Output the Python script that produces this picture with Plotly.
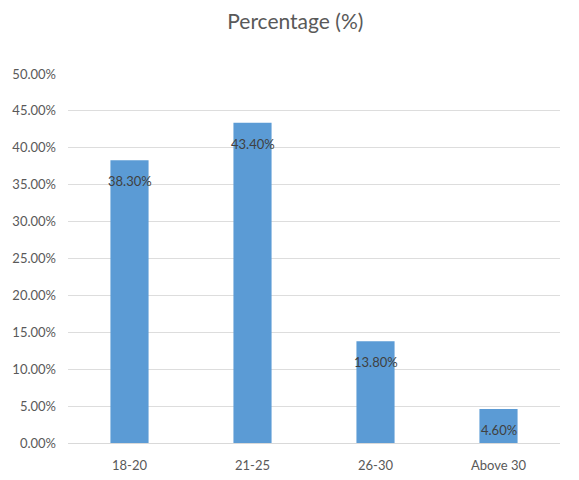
import plotly.graph_objects as go

# Age groups and their share of respondents
age_groups = ["18-20", "21-25", "26-30", "Above 30"]
shares = [0.383, 0.434, 0.138, 0.046]
y_ticks = [0.0, 0.05, 0.10, 0.15, 0.20, 0.25, 0.30, 0.35, 0.40, 0.45, 0.50]

FONT = "Lato"
GREY = "#595959"

fig = go.Figure(
    go.Bar(
        x=age_groups,
        y=shares,
        marker=dict(color="#5B9BD5", line=dict(width=0)),
        hoverinfo="skip",
    )
)

# Value labels just below the top of each bar
for g, v in zip(age_groups, shares):
    fig.add_annotation(
        x=g, y=v, text=f"{v * 100:.2f}%",
        showarrow=False, yanchor="middle", yshift=-21,
        font=dict(family=FONT, size=13, color="#404040"),
    )

fig.update_layout(
    width=579, height=480,
    margin=dict(l=68, r=19, t=74, b=37),
    paper_bgcolor="white", plot_bgcolor="white",
    bargap=0.69,
    showlegend=False,
    title=dict(
        text="Percentage (%)", x=0.51, xanchor="center", y=0.955, yanchor="middle",
        font=dict(family=FONT, size=21, color=GREY),
    ),
    font=dict(family=FONT, size=13, color=GREY),
)
fig.update_yaxes(
    range=[0, 0.5], tickvals=y_ticks, tickformat=".2%",
    showgrid=True, gridcolor="#DDDDDD", gridwidth=1,
    zeroline=True, zerolinecolor="#D9D9D9", zerolinewidth=1,
    showline=False, ticks="", ticklen=0, ticklabelstandoff=11,
    automargin=False,
    tickfont=dict(family=FONT, size=13, color=GREY),
)
fig.update_xaxes(
    showgrid=False, showline=False, ticks="", ticklabelstandoff=13,
    automargin=False,
    tickfont=dict(family=FONT, size=13, color=GREY),
)

fig.write_html("out.html")
